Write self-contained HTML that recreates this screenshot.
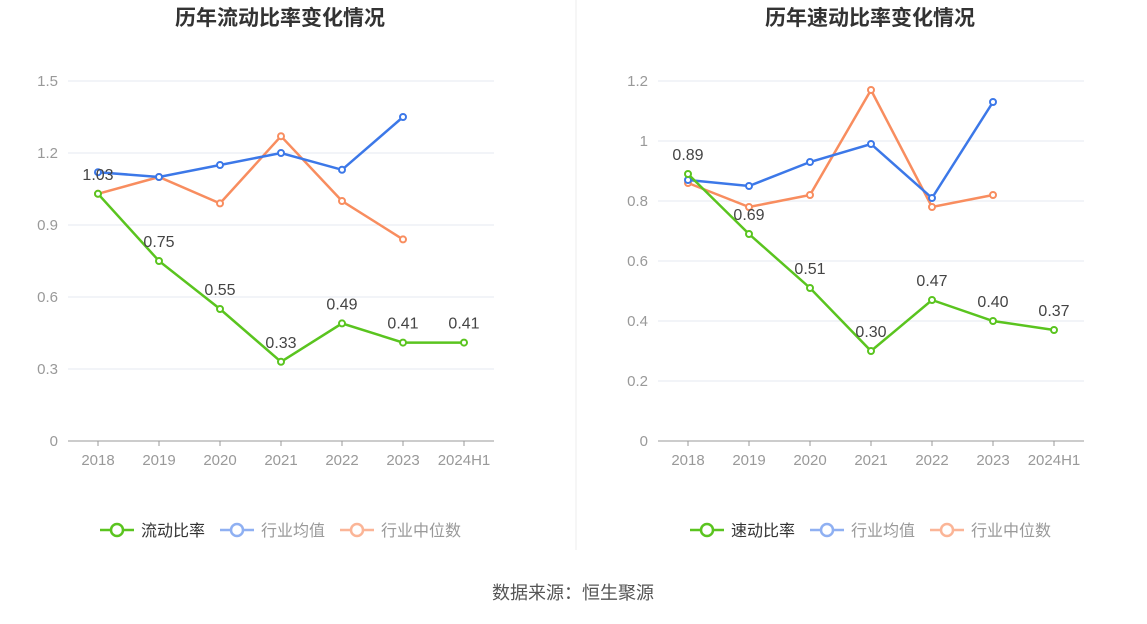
<!DOCTYPE html>
<html><head><meta charset="utf-8"><style>
body{margin:0;width:1147px;height:619px;background:#fff;overflow:hidden;font-family:"Liberation Sans","Noto Sans CJK SC",sans-serif}
svg text{font-family:"Liberation Sans","Noto Sans CJK SC",sans-serif}
</style></head><body>
<svg id="s" width="1147" height="619"></svg>
<script>
const years=["2018","2019","2020","2021","2022","2023","2024H1"];
const currentRatio=[1.03,0.75,0.55,0.33,0.49,0.41,0.41];
const currentAvg=[1.12,1.10,1.15,1.20,1.13,1.35];
const currentMedian=[1.03,1.10,0.99,1.27,1.00,0.84];
const leftTicks=[0,0.3,0.6,0.9,1.2,1.5];
const quickRatio=[0.89,0.69,0.51,0.30,0.47,0.40,0.37];
const quickAvg=[0.87,0.85,0.93,0.99,0.81,1.13];
const quickMedian=[0.86,0.78,0.82,1.17,0.78,0.82];
const rightTicks=[0,0.2,0.4,0.6,0.8,1.0,1.2];
const leftTickLabels=["0","0.3","0.6","0.9","1.2","1.5"];
const rightTickLabels=["0","0.2","0.4","0.6","0.8","1","1.2"];

const NS="http://www.w3.org/2000/svg",svg=document.getElementById('s');
function el(tag,attrs,parent,text){const e=document.createElementNS(NS,tag);for(const k in attrs)e.setAttribute(k,attrs[k]);if(text!==undefined)e.textContent=text;(parent||svg).appendChild(e);return e;}

function chart(cfg){
  const g=el('g',{});
  
  
  const x0=cfg.x0,step=61,yTop=81,yBot=441,max=cfg.max;
  const X=i=>x0+30+i*step, Y=v=>yBot-(v/max)*(yBot-yTop);
  const t=el('text',{x:cfg.x0+212,y:25,'text-anchor':'middle','font-size':21,'font-weight':'bold',fill:'#333'},g,cfg.title);
  
  
  cfg.ticks.forEach((v,i)=>{
    if(v>0){const gl=el('line',{x1:x0,x2:x0+426,y1:Y(v),y2:Y(v),stroke:'#e6e8f0'},g);
    }
    const tl=el('text',{x:x0-10,y:Y(v)+5,'text-anchor':'end','font-size':15,fill:'#999'},g,cfg.tickLabels[i]);
    
  });
  const ax=el('line',{x1:x0,x2:x0+426,y1:yBot,y2:yBot,stroke:'#999'},g);
  
  years.forEach((y,i)=>{
    el('line',{x1:X(i),x2:X(i),y1:yBot,y2:yBot+5,stroke:'#999'},g);
    const xl=el('text',{x:X(i),y:465,'text-anchor':'middle','font-size':15,fill:'#999'},g,y);
    
  });
  const series=[[cfg.median,'#f88d5f','median-line'],[cfg.avg,'#3c78e8','average-line'],[cfg.main,'#5ac41f','main-line']];
  series.forEach(([d,c,n])=>{
    const p=el('polyline',{points:d.map((v,i)=>X(i)+','+Y(v)).join(' '),fill:'none',stroke:c,'stroke-width':2.5},g);
    
    d.forEach((v,i)=>{const c2=el('circle',{cx:X(i),cy:Y(v),r:3,fill:'#fff',stroke:c,'stroke-width':2},g);
      });
  });
  cfg.main.forEach((v,i)=>{
    const l=el('text',{x:X(i),y:Y(v)-14,'text-anchor':'middle','font-size':16,fill:'#444'},g,v.toFixed(2));
    
  });
  const leg=[[cfg.mainName,'#5ac41f','#333'],['行业均值','#8fb0f2','#999'],['行业中位数','#fbb597','#999']];
  let lx=cfg.x0+32;
  leg.forEach(([txt,c,tc])=>{
    const lg=el('g',{},g);
    
    el('line',{x1:lx,x2:lx+34,y1:530,y2:530,stroke:c,'stroke-width':2.5},lg);
    el('circle',{cx:lx+17,cy:530,r:6,fill:'#fff',stroke:c,'stroke-width':2.5},lg);
    el('text',{x:lx+41,y:536,'font-size':16,fill:tc},lg,txt);
    lx+=41+txt.length*16+15;
  });
}
chart({name:'current-ratio-chart',x0:68,max:1.5,ticks:leftTicks,tickLabels:leftTickLabels,title:'历年流动比率变化情况',main:currentRatio,avg:currentAvg,median:currentMedian,mainName:'流动比率'});
chart({name:'quick-ratio-chart',x0:658,max:1.2,ticks:rightTicks,tickLabels:rightTickLabels,title:'历年速动比率变化情况',main:quickRatio,avg:quickAvg,median:quickMedian,mainName:'速动比率'});
const d=el('line',{x1:576,x2:576,y1:0,y2:550,stroke:'#eee'});

const src=el('text',{x:573,y:599,'text-anchor':'middle','font-size':18,fill:'#555'},svg,'数据来源：恒生聚源');

</script>
</body></html>
